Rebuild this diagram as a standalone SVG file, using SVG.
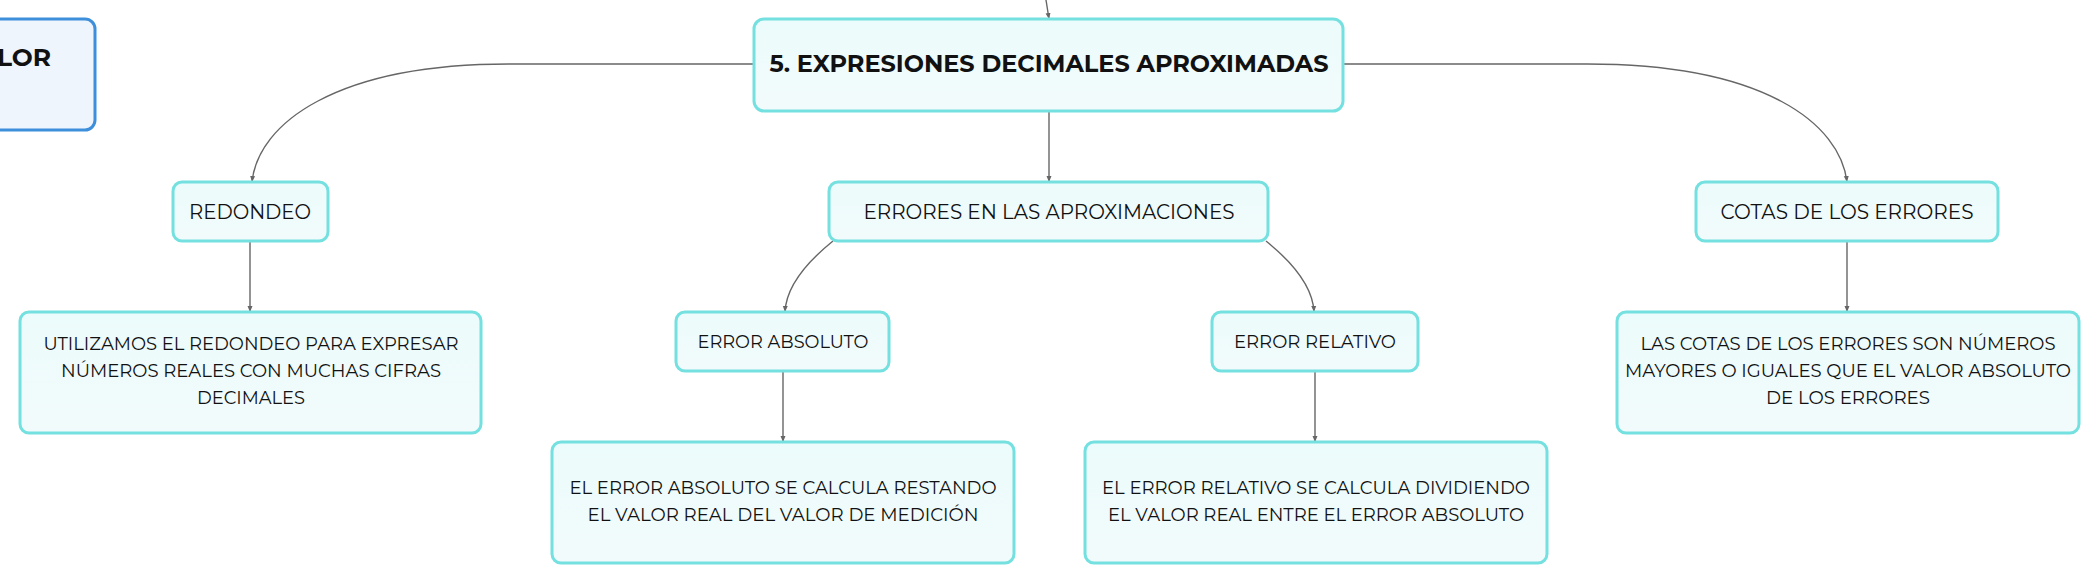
<svg xmlns="http://www.w3.org/2000/svg" width="2100" height="584" viewBox="0 0 2100 584">
<style>
.box{fill:url(#g);stroke:#74e0e0;stroke-width:3}
.lor{fill:#eef5fd;stroke:#3d8fdc;stroke-width:3}
.t{font-family:"Montserrat","Liberation Sans","Noto Sans",sans-serif;fill:#111;text-anchor:middle}
.n{font-size:20px}
.s{font-size:18px}
.d{font-size:18px}
.b{font-size:23px;font-weight:bold}
.c{fill:none;stroke:#666;stroke-width:1.4;marker-end:url(#a)}
</style>
<defs>
<linearGradient id="g" x1="0" y1="0" x2="0" y2="1"><stop offset="0" stop-color="#ecfbfb"/><stop offset="1" stop-color="#f2fbfc"/></linearGradient>
<marker id="a" markerUnits="userSpaceOnUse" markerWidth="8" markerHeight="8" refX="6" refY="3" orient="auto"><path d="M0,0.5 L6,3 L0,5.5 Z" fill="#666"/></marker>
</defs>
<rect width="2100" height="584" fill="#fff"/>
<g id="connectors">
<path class="c" d="M1046,0 L1049,19"/>
<path class="c" d="M754,64 L509,64 C335,64 258,124 252,182"/>
<path class="c" d="M1343,64 L1587,64 C1765,64 1840,124 1847,182"/>
<path class="c" d="M1049,111 L1049,182"/>
<path class="c" d="M250,241 L250,312"/>
<path class="c" d="M833,241 C802,266 786,290 785,312"/>
<path class="c" d="M1266,241 C1297,266 1313,290 1314,312"/>
<path class="c" d="M783,371 L783,442"/>
<path class="c" d="M1315,371 L1315,442"/>
<path class="c" d="M1847,241 L1847,312"/>
</g>
<g id="lor"><rect class="lor" x="-20" y="19" width="115" height="111" rx="10"/><text class="t b" x="51" y="66" style="text-anchor:end" textLength="54" lengthAdjust="spacingAndGlyphs">LOR</text></g>
<g id="main"><rect class="box" x="754" y="19" width="589" height="92" rx="10"/><text class="t b" x="1049" y="72" textLength="559" lengthAdjust="spacingAndGlyphs">5. EXPRESIONES DECIMALES APROXIMADAS</text></g>
<g id="redondeo"><rect class="box" x="173" y="182" width="155" height="59" rx="9"/><text class="t n" x="250" y="219" textLength="122" lengthAdjust="spacingAndGlyphs">REDONDEO</text></g>
<g id="errores"><rect class="box" x="829" y="182" width="439" height="59" rx="9"/><text class="t n" x="1049" y="219" textLength="371" lengthAdjust="spacingAndGlyphs">ERRORES EN LAS APROXIMACIONES</text></g>
<g id="cotas"><rect class="box" x="1696" y="182" width="302" height="59" rx="9"/><text class="t n" x="1847" y="219" textLength="253" lengthAdjust="spacingAndGlyphs">COTAS DE LOS ERRORES</text></g>
<g id="redondeo-desc"><rect class="box" x="20" y="312" width="461" height="121" rx="9"/>
<text class="t d" x="251" y="350" textLength="415" lengthAdjust="spacingAndGlyphs">UTILIZAMOS EL REDONDEO PARA EXPRESAR</text>
<text class="t d" x="251" y="377" textLength="380" lengthAdjust="spacingAndGlyphs">NÚMEROS REALES CON MUCHAS CIFRAS</text>
<text class="t d" x="251" y="404" textLength="108" lengthAdjust="spacingAndGlyphs">DECIMALES</text></g>
<g id="absoluto"><rect class="box" x="676" y="312" width="213" height="59" rx="9"/><text class="t s" x="783" y="348" textLength="171" lengthAdjust="spacingAndGlyphs">ERROR ABSOLUTO</text></g>
<g id="relativo"><rect class="box" x="1212" y="312" width="206" height="59" rx="9"/><text class="t s" x="1315" y="348" textLength="162" lengthAdjust="spacingAndGlyphs">ERROR RELATIVO</text></g>
<g id="absoluto-desc"><rect class="box" x="552" y="442" width="462" height="121" rx="9"/>
<text class="t d" x="783" y="494" textLength="427" lengthAdjust="spacingAndGlyphs">EL ERROR ABSOLUTO SE CALCULA RESTANDO</text>
<text class="t d" x="783" y="521" textLength="391" lengthAdjust="spacingAndGlyphs">EL VALOR REAL DEL VALOR DE MEDICIÓN</text></g>
<g id="relativo-desc"><rect class="box" x="1085" y="442" width="462" height="121" rx="9"/>
<text class="t d" x="1316" y="494" textLength="428" lengthAdjust="spacingAndGlyphs">EL ERROR RELATIVO SE CALCULA DIVIDIENDO</text>
<text class="t d" x="1316" y="521" textLength="416" lengthAdjust="spacingAndGlyphs">EL VALOR REAL ENTRE EL ERROR ABSOLUTO</text></g>
<g id="cotas-desc"><rect class="box" x="1617" y="312" width="462" height="121" rx="9"/>
<text class="t d" x="1848" y="350" textLength="415" lengthAdjust="spacingAndGlyphs">LAS COTAS DE LOS ERRORES SON NÚMEROS</text>
<text class="t d" x="1848" y="377" textLength="446" lengthAdjust="spacingAndGlyphs">MAYORES O IGUALES QUE EL VALOR ABSOLUTO</text>
<text class="t d" x="1848" y="404" textLength="164" lengthAdjust="spacingAndGlyphs">DE LOS ERRORES</text></g>
</svg>
